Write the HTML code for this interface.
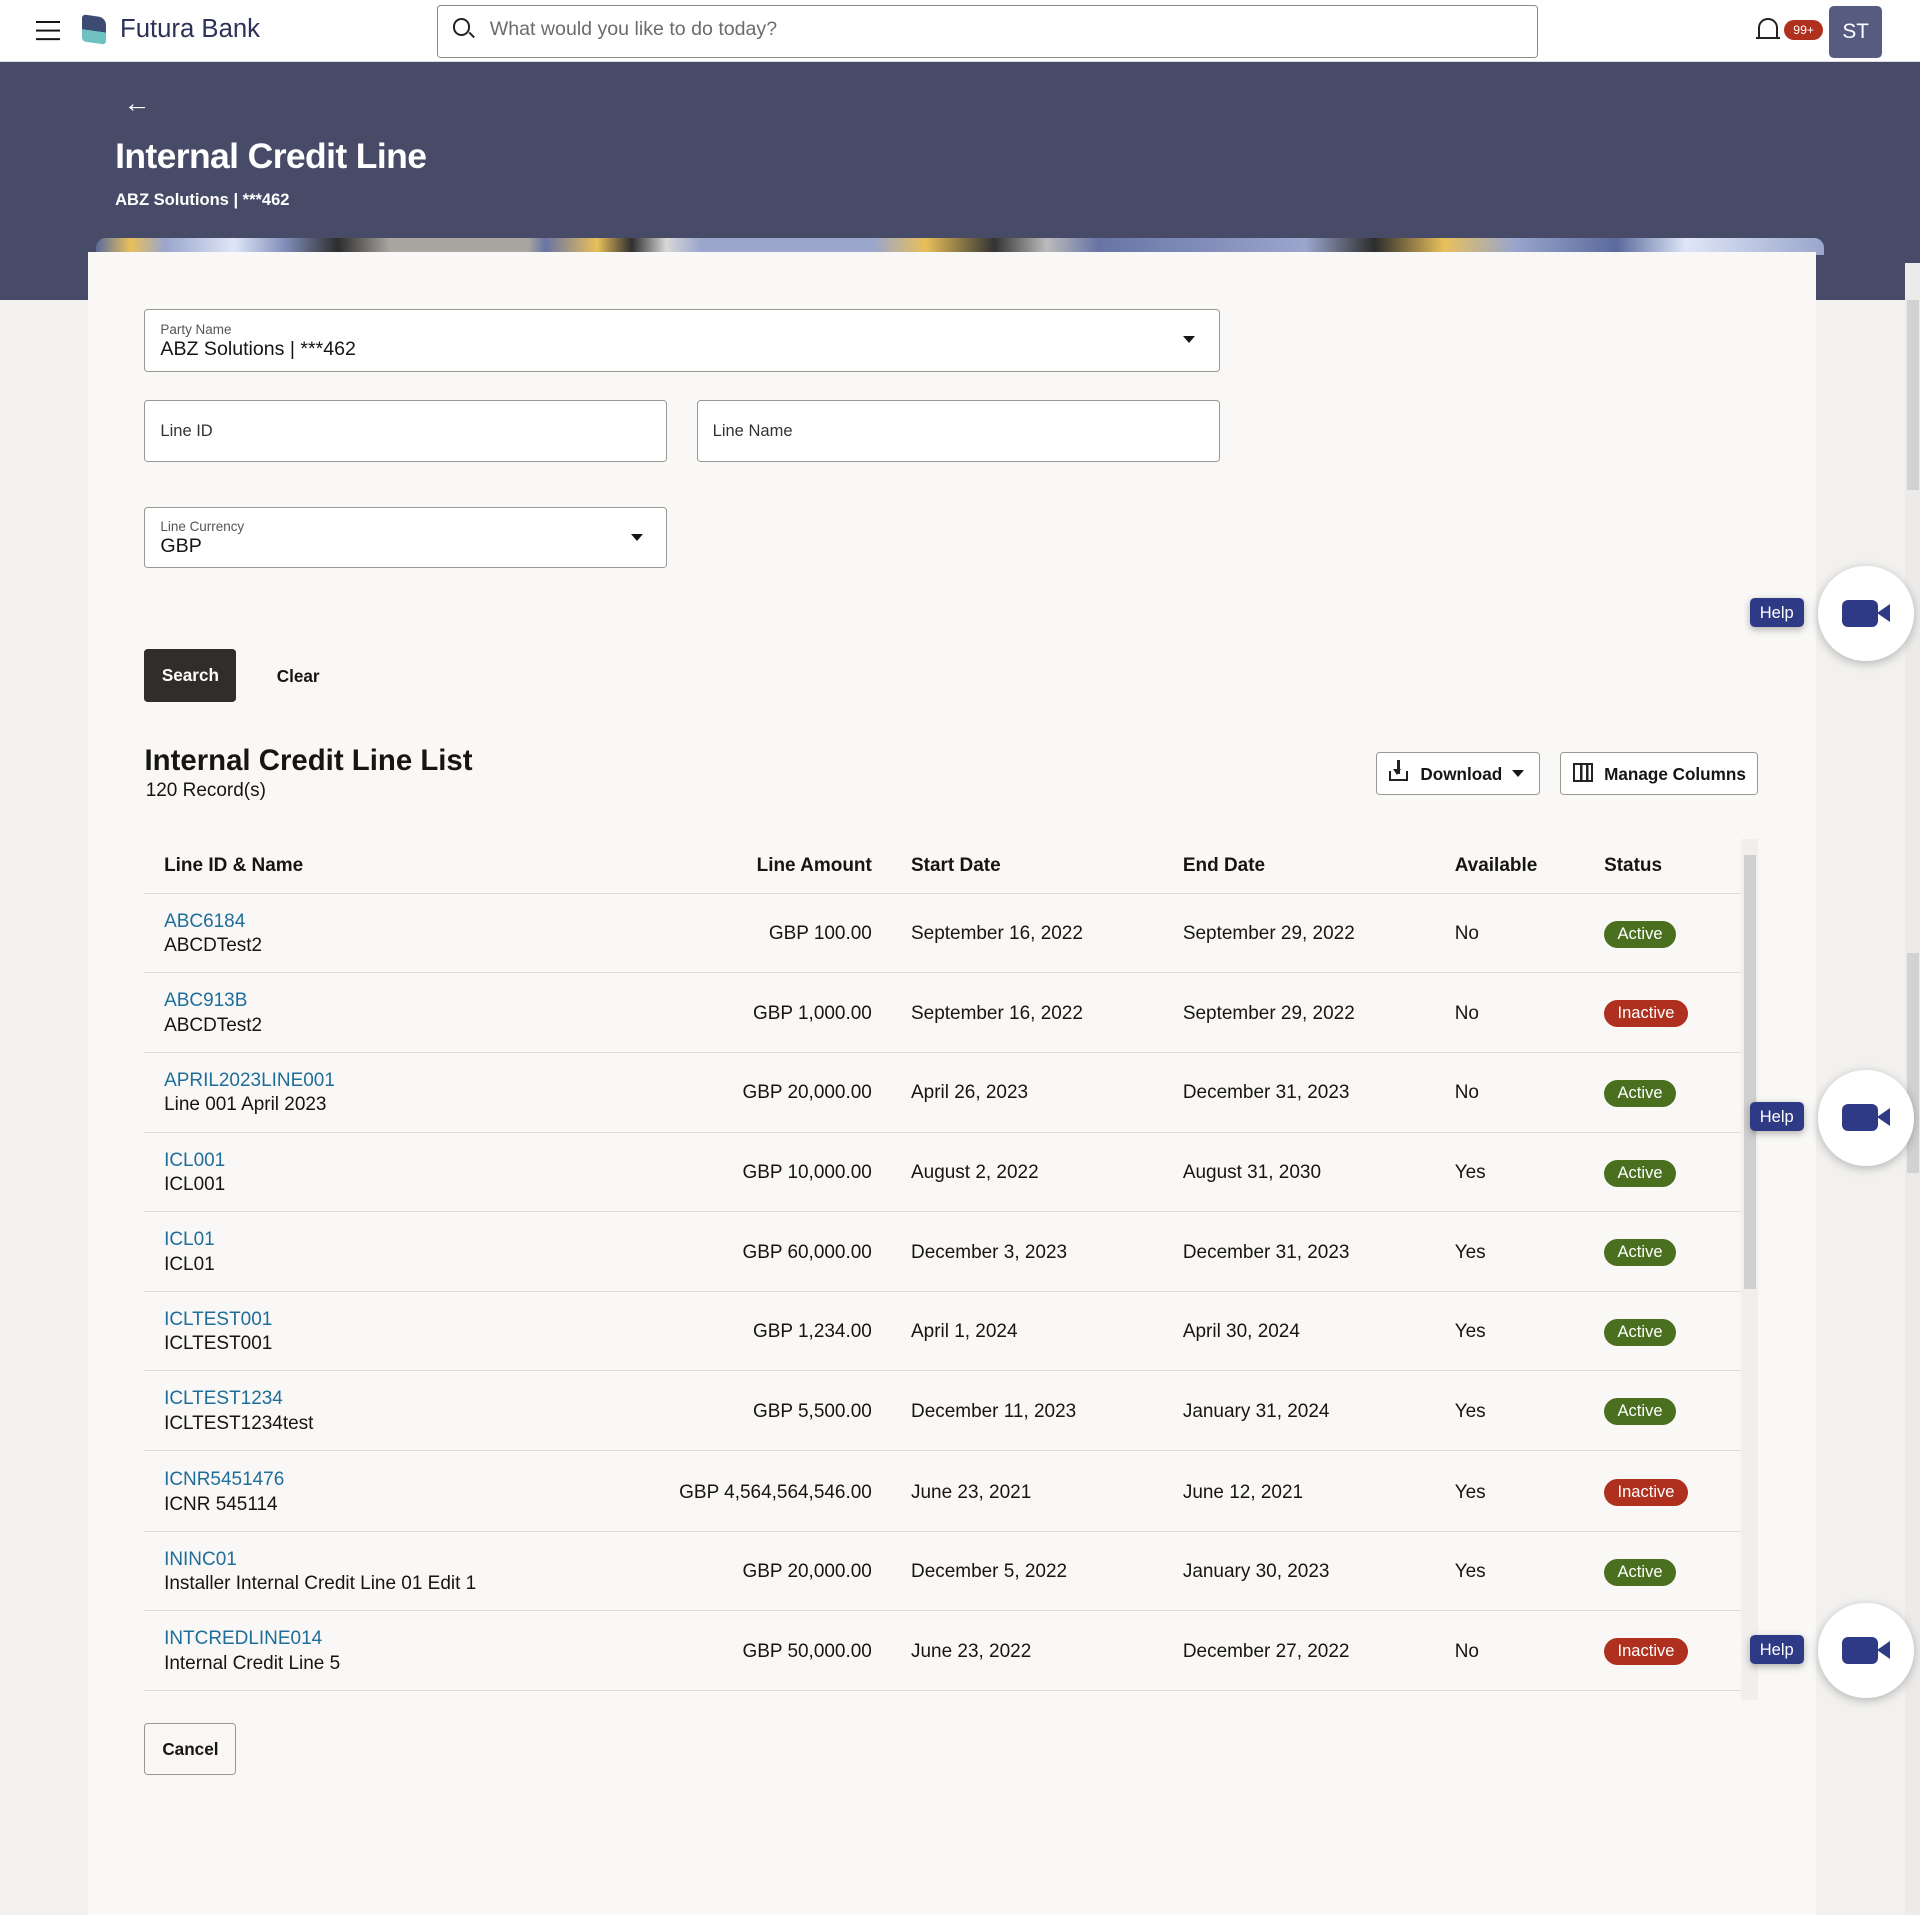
<!DOCTYPE html>
<html><head><meta charset="utf-8">
<style>
*{box-sizing:border-box;margin:0;padding:0}
html,body{width:1920px;height:1915px;overflow:hidden;background:#f3f2f0}
#w{zoom:1.22449;position:relative;width:1568px;height:1564px;font-family:"Liberation Sans",sans-serif;color:#161513;overflow:hidden;background:#f2f1ef}
.a{position:absolute}
.hdr{left:0;top:0;width:1568px;height:51px;background:#fff;border-bottom:1px solid #ddd}
.ban{left:0;top:51px;width:1568px;height:194px;background:#474b68}
.strip{left:78px;top:194px;width:1412px;height:14px;border-radius:8px 8px 0 0;background:linear-gradient(90deg,#5a6a9c 0,#e8c05a 2%,#9aa6cc 4%,#dfe6f7 8%,#7f8cb8 11%,#2d2d2d 14%,#a9a6a0 17%,#a9a6a0 25%,#6874a5 26%,#e8c05a 29%,#2f2f30 31%,#d8d8d8 33%,#9aa6cc 35%,#9aa6cc 45%,#e8c05a 48%,#333 52%,#bbb 55%,#6874a5 58%,#9aa6cc 70%,#2d2d2d 74%,#e8c05a 78%,#9aa6cc 82%,#5a6a9c 88%,#dfe6f7 92%,#9aa6cc 100%)}
.card{left:72px;top:206px;width:1411px;height:1370px;background:#f9f8f6}
.fld{border:1px solid #9a9893;border-radius:3px;background:#fff}
.lbl{font-size:11px;color:#555}
.val{font-size:16px;color:#161513}
.caret{width:0;height:0;border-left:5px solid transparent;border-right:5px solid transparent;border-top:6px solid #161513}
.th{font-size:15.5px;font-weight:bold;top:698px}
.row{left:118px;width:1304px;height:65px;border-bottom:1px solid #dedcd8}
.c{position:absolute;font-size:15.5px;top:24px}
.id{position:absolute;left:16px;top:13px;font-size:15.5px;line-height:20px}
.id b{font-weight:normal;color:#1f6d99;display:block}
.pill{position:absolute;left:1192px;top:22px;height:22px;border-radius:11px;color:#fff;font-size:13.5px;line-height:22px;padding:0 11px}
.act{background:#4a6f1f}
.ina{background:#b0301f}
.help{left:1429px;width:44px;height:24px;background:#2e3a86;color:#fff;font-size:13.5px;text-align:center;line-height:24px;border-radius:4px;box-shadow:0 2px 6px rgba(0,0,0,.3)}
.cir{left:1485px;width:78px;height:78px;border-radius:50%;background:#fff;box-shadow:0 2px 8px rgba(0,0,0,.25)}
.cam{position:absolute;left:19px;top:28px;width:30px;height:22px;background:#2e3a86;border-radius:5px}
.cam2{position:absolute;left:48px;top:31px;width:0;height:0;border-top:8px solid transparent;border-bottom:8px solid transparent;border-right:11px solid #2e3a86}
.btn{border:1px solid #9a9893;border-radius:3px;background:#fff;font-size:14px;font-weight:bold}
</style></head><body><div id="w">
<div class="a hdr"></div>
<div class="a" style="left:29px;top:17px;width:20px;height:2px;background:#161513;box-shadow:0 7px 0 #161513,0 14px 0 #161513"></div>
<div class="a" style="left:67px;top:13px;width:20px;height:22px;background:linear-gradient(180deg,#3b4b74 55%,#6fc0c0 55%);border-radius:3px 6px 3px 3px;transform:skewY(8deg)"></div>
<div class="a" style="left:98px;top:12px;font-size:21px;color:#2d3258">Futura Bank</div>
<div class="a" style="left:357px;top:4px;width:899px;height:43px;border:1px solid #8a8a8a;border-radius:3px;background:#fff"></div>
<div class="a" style="left:370px;top:15px;width:14px;height:14px;border:2px solid #222;border-radius:50%"></div>
<div class="a" style="left:382px;top:28px;width:6px;height:2px;background:#222;transform:rotate(45deg)"></div>
<div class="a" style="left:400px;top:15px;font-size:16px;color:#6b6b6b">What would you like to do today?</div>
<div class="a" style="left:1436px;top:15px;width:16px;height:16px;border:2px solid #222;border-bottom:none;border-radius:8px 8px 0 0"></div>
<div class="a" style="left:1434px;top:30px;width:20px;height:2px;background:#222"></div>
<div class="a" style="left:1457px;top:16px;width:32px;height:17px;background:#b0301f;border-radius:9px;color:#fff;font-size:10px;text-align:center;line-height:17px">99+</div>
<div class="a" style="left:1494px;top:5px;width:43px;height:42px;background:#565c80;border-radius:4px;color:#fff;font-size:17px;text-align:center;line-height:42px">ST</div>

<div class="a ban"></div>
<div class="a" style="left:101px;top:72px;color:#fff;font-size:22px">&#8592;</div>
<div class="a" style="left:94px;top:111px;color:#fff;font-size:29px;font-weight:bold;letter-spacing:-.5px">Internal Credit Line</div>
<div class="a" style="left:94px;top:155px;color:#fff;font-size:13.5px;font-weight:bold">ABZ Solutions | ***462</div>
<div class="a strip"></div>
<div class="a card"></div>
<div class="a" style="left:1556px;top:215px;width:12px;height:1349px;background:#ecebe9"></div>
<div class="a" style="left:1557px;top:245px;width:10px;height:155px;background:#d2d2d2"></div>
<div class="a" style="left:1557px;top:778px;width:10px;height:180px;background:#d2d2d2"></div>

<div class="a fld" style="left:118px;top:252px;width:878px;height:52px"></div>
<div class="a lbl" style="left:131px;top:263px">Party Name</div>
<div class="a val" style="left:131px;top:276px">ABZ Solutions | ***462</div>
<div class="a caret" style="left:966px;top:274px"></div>
<div class="a fld" style="left:118px;top:327px;width:427px;height:50px"></div>
<div class="a" style="left:131px;top:344px;font-size:13.5px;color:#333">Line ID</div>
<div class="a fld" style="left:569px;top:327px;width:427px;height:50px"></div>
<div class="a" style="left:582px;top:344px;font-size:13.5px;color:#333">Line Name</div>
<div class="a fld" style="left:118px;top:414px;width:427px;height:50px"></div>
<div class="a lbl" style="left:131px;top:424px">Line Currency</div>
<div class="a val" style="left:131px;top:437px">GBP</div>
<div class="a caret" style="left:515px;top:436px"></div>

<div class="a" style="left:118px;top:530px;width:75px;height:43px;background:#312d2a;border-radius:3px;color:#fff;font-size:14px;font-weight:bold;text-align:center;line-height:43px">Search</div>
<div class="a" style="left:226px;top:544px;font-size:14px;font-weight:bold">Clear</div>

<div class="a" style="left:118px;top:608px;font-size:24px;font-weight:bold">Internal Credit Line List</div>
<div class="a" style="left:119px;top:637px;font-size:15.5px">120 Record(s)</div>
<div class="a btn" style="left:1124px;top:614px;width:134px;height:35px"></div>
<div class="a" style="left:1134px;top:630px;width:16px;height:8px;border:2px solid #222;border-top:none"></div>
<div class="a" style="left:1141px;top:621px;width:2px;height:11px;background:#222"></div>
<div class="a" style="left:1138px;top:628px;width:0;height:0;border-left:4px solid transparent;border-right:4px solid transparent;border-top:5px solid #222"></div>
<div class="a" style="left:1160px;top:624px;font-size:14px;font-weight:bold">Download</div>
<div class="a caret" style="left:1235px;top:629px"></div>
<div class="a btn" style="left:1274px;top:614px;width:162px;height:35px"></div>
<div class="a" style="left:1285px;top:623px;width:16px;height:16px;border:2px solid #222;background:linear-gradient(90deg,transparent 4px,#222 4px,#222 6px,transparent 6px,transparent 9px,#222 9px,#222 11px,transparent 11px)"></div>
<div class="a" style="left:1310px;top:624px;font-size:14px;font-weight:bold">Manage Columns</div>

<div class="a" style="left:1422px;top:685px;width:14px;height:703px;background:#f0efed"></div>
<div class="a" style="left:1424px;top:698px;width:10px;height:355px;background:#cfcfcf"></div>

<div class="a th" style="left:134px">Line ID &amp; Name</div>
<div class="a th" style="left:560px;width:152px;text-align:right">Line Amount</div>
<div class="a th" style="left:744px">Start Date</div>
<div class="a th" style="left:966px">End Date</div>
<div class="a th" style="left:1188px">Available</div>
<div class="a th" style="left:1310px">Status</div>
<div class="a" style="left:118px;top:729px;width:1304px;height:1px;background:#dedcd8"></div>

<div class="a row" style="top:730px"><div class="id"><b>ABC6184</b>ABCDTest2</div><div class="c" style="right:710px">GBP 100.00</div><div class="c" style="left:626px">September 16, 2022</div><div class="c" style="left:848px">September 29, 2022</div><div class="c" style="left:1070px">No</div><div class="pill act">Active</div></div>
<div class="a row" style="top:795px"><div class="id"><b>ABC913B</b>ABCDTest2</div><div class="c" style="right:710px">GBP 1,000.00</div><div class="c" style="left:626px">September 16, 2022</div><div class="c" style="left:848px">September 29, 2022</div><div class="c" style="left:1070px">No</div><div class="pill ina">Inactive</div></div>
<div class="a row" style="top:860px"><div class="id"><b>APRIL2023LINE001</b>Line 001 April 2023</div><div class="c" style="right:710px">GBP 20,000.00</div><div class="c" style="left:626px">April 26, 2023</div><div class="c" style="left:848px">December 31, 2023</div><div class="c" style="left:1070px">No</div><div class="pill act">Active</div></div>
<div class="a row" style="top:925px"><div class="id"><b>ICL001</b>ICL001</div><div class="c" style="right:710px">GBP 10,000.00</div><div class="c" style="left:626px">August 2, 2022</div><div class="c" style="left:848px">August 31, 2030</div><div class="c" style="left:1070px">Yes</div><div class="pill act">Active</div></div>
<div class="a row" style="top:990px"><div class="id"><b>ICL01</b>ICL01</div><div class="c" style="right:710px">GBP 60,000.00</div><div class="c" style="left:626px">December 3, 2023</div><div class="c" style="left:848px">December 31, 2023</div><div class="c" style="left:1070px">Yes</div><div class="pill act">Active</div></div>
<div class="a row" style="top:1055px"><div class="id"><b>ICLTEST001</b>ICLTEST001</div><div class="c" style="right:710px">GBP 1,234.00</div><div class="c" style="left:626px">April 1, 2024</div><div class="c" style="left:848px">April 30, 2024</div><div class="c" style="left:1070px">Yes</div><div class="pill act">Active</div></div>
<div class="a row" style="top:1120px"><div class="id"><b>ICLTEST1234</b>ICLTEST1234test</div><div class="c" style="right:710px">GBP 5,500.00</div><div class="c" style="left:626px">December 11, 2023</div><div class="c" style="left:848px">January 31, 2024</div><div class="c" style="left:1070px">Yes</div><div class="pill act">Active</div></div>
<div class="a row" style="top:1186px"><div class="id"><b>ICNR5451476</b>ICNR 545114</div><div class="c" style="right:710px">GBP 4,564,564,546.00</div><div class="c" style="left:626px">June 23, 2021</div><div class="c" style="left:848px">June 12, 2021</div><div class="c" style="left:1070px">Yes</div><div class="pill ina">Inactive</div></div>
<div class="a row" style="top:1251px"><div class="id"><b>ININC01</b>Installer Internal Credit Line 01 Edit 1</div><div class="c" style="right:710px">GBP 20,000.00</div><div class="c" style="left:626px">December 5, 2022</div><div class="c" style="left:848px">January 30, 2023</div><div class="c" style="left:1070px">Yes</div><div class="pill act">Active</div></div>
<div class="a row" style="top:1316px"><div class="id"><b>INTCREDLINE014</b>Internal Credit Line 5</div><div class="c" style="right:710px">GBP 50,000.00</div><div class="c" style="left:626px">June 23, 2022</div><div class="c" style="left:848px">December 27, 2022</div><div class="c" style="left:1070px">No</div><div class="pill ina">Inactive</div></div>

<div class="a btn" style="left:118px;top:1407px;width:75px;height:43px;text-align:center;line-height:41px;background:#f9f8f6">Cancel</div>

<div class="a help" style="top:488px">Help</div>
<div class="a cir" style="top:462px"><div class="cam"></div><div class="cam2"></div></div>
<div class="a help" style="top:900px">Help</div>
<div class="a cir" style="top:874px"><div class="cam"></div><div class="cam2"></div></div>
<div class="a help" style="top:1335px">Help</div>
<div class="a cir" style="top:1309px"><div class="cam"></div><div class="cam2"></div></div>
</div></body></html>
